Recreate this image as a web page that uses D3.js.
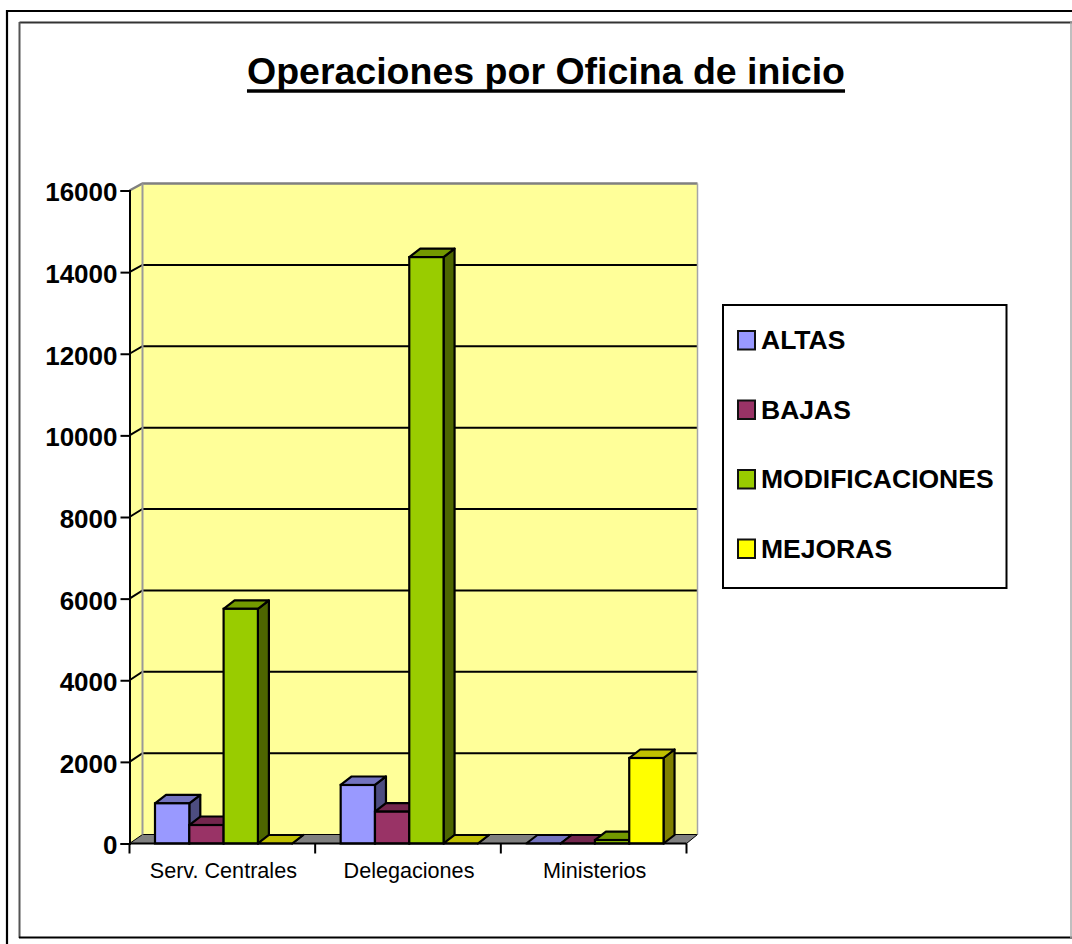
<!DOCTYPE html>
<html>
<head>
<meta charset="utf-8">
<script src="https://cdn.jsdelivr.net/npm/d3@7"></script>
<style>
  html, body { margin: 0; padding: 0; background: #fff; }
  svg { display: block; }
  text { font-family: "Liberation Sans", Arial, sans-serif; fill: #000; }
</style>
</head>
<body>
<div id="chart"></div>
<script>
// chart values
var categories = ["Serv. Centrales", "Delegaciones", "Ministerios"];
var seriesNames = ["ALTAS", "BAJAS", "MODIFICACIONES", "MEJORAS"];
var altas = [985, 1434, 0];
var bajas = [453, 780, 0];
var modificaciones = [5750, 14368, 85];
var mejoras = [0, 0, 2095];
var yTicks = [0, 2000, 4000, 6000, 8000, 10000, 12000, 14000, 16000];
var seriesValues = [altas, bajas, modificaciones, mejoras];
var colors = ["#9999FF", "#993366", "#99CC00", "#FFFF00"];

var svgWidth = 1072;
var svgHeight = 944;

// front plane of the fake 3d box
var plot = {left: 129.5, right: 686.5, top: 190.5, bottom: 843.5};
var backLeft = 142.5, backRight = 697.5, backTop = 183.5, backBottom = 834.5;
var barDx = 11, barDy = 8.5;

var SVG = d3.select("#chart")
  .append("svg")
  .attr("width", svgWidth)
  .attr("height", svgHeight);

// outer frame, only left and top are inside the picture
SVG.append("path")
  .attr("d", "M7,944V11H1072")
  .attr("fill", "none").attr("stroke", "#000").attr("stroke-width", 2.2);

// inner frame, each side has its own grey
var frameSides = [
  {d: "M19.5,22.5H1072", color: "#333", w: 2},
  {d: "M19.5,22V938", color: "#555", w: 2},
  {d: "M19,937.5H1072", color: "#000", w: 2},
  {d: "M1071,22V938", color: "#aaa", w: 1.5}
];
SVG.selectAll(".frame")
  .data(frameSides)
  .enter()
  .append("path")
  .attr("class", "frame")
  .attr("d", d => d.d)
  .attr("fill", "none")
  .attr("stroke", d => d.color)
  .attr("stroke-width", d => d.w);

// title, underline drawn by hand so it sits as low as the original
var title = SVG.append("text")
  .attr("x", 546).attr("y", 84)
  .attr("text-anchor", "middle")
  .attr("font-size", "37.5px")
  .attr("font-weight", "bold")
  .text("Operaciones por Oficina de inicio");
var titleLen = title.node().getComputedTextLength();
SVG.append("line")
  .attr("x1", 546 - titleLen / 2).attr("x2", 546 + titleLen / 2)
  .attr("y1", 91).attr("y2", 91)
  .attr("stroke", "#000").attr("stroke-width", 3.5);

// scales, the back wall is a little shorter than the front plane
var yScale = d3.scaleLinear().domain([0, 16000]).range([plot.bottom, plot.top]);
var yBack = d3.scaleLinear().domain([0, 16000]).range([backBottom, backTop]);
var xScale = d3.scaleBand().domain(categories).range([plot.left, plot.right]);
var barScale = d3.scaleBand().domain(seriesNames).range([25.5, 162.7]);

function poly(points) {
  return d3.line()(points) + "Z";
}

// back wall, left wall, floor
SVG.append("path")
  .attr("d", poly([[backLeft, backTop], [backRight, backTop], [backRight, backBottom], [backLeft, backBottom]]))
  .attr("fill", "#FFFF99").attr("stroke", "none");
SVG.append("path")
  .attr("d", poly([[plot.left, plot.top], [backLeft, backTop], [backLeft, backBottom], [plot.left, plot.bottom]]))
  .attr("fill", "#FFFF99").attr("stroke", "none");
SVG.append("path")
  .attr("d", poly([[plot.left, plot.bottom], [backLeft, backBottom], [backRight, backBottom], [plot.right, plot.bottom]]))
  .attr("fill", "#808080").attr("stroke", "#000").attr("stroke-width", 1);

// gridlines run along the left wall then across the back
SVG.selectAll(".grid")
  .data(yTicks.filter(d => d > 0 && d < 16000))
  .enter()
  .append("path")
  .attr("class", "grid")
  .attr("d", d => d3.line()([[plot.left, yScale(d)], [backLeft, yBack(d)], [backRight, yBack(d)]]))
  .attr("fill", "none").attr("stroke", "#000").attr("stroke-width", 2);

// wall edges
SVG.append("path")
  .attr("d", d3.line()([[plot.left, plot.top], [backLeft, backTop], [backRight, backTop]]))
  .attr("fill", "none").attr("stroke", "#808080").attr("stroke-width", 2.5);
SVG.append("line")
  .attr("x1", backLeft).attr("x2", backLeft)
  .attr("y1", backTop).attr("y2", backBottom)
  .attr("stroke", "#999").attr("stroke-width", 2);
SVG.append("line")
  .attr("x1", backRight).attr("x2", backRight)
  .attr("y1", backTop).attr("y2", backBottom)
  .attr("stroke", "#a6a6a6").attr("stroke-width", 1.5);

// bars: one group per series, each bar has side, top and front faces
seriesNames.forEach(function(name, s) {
  var color = d3.color(colors[s]);
  var rows = categories.map((c, i) => ({cat: c, value: seriesValues[s][i]}));
  var g = SVG.append("g");
  rows.forEach(function(d) {
    var x0 = xScale(d.cat) + barScale(name);
    var x1 = x0 + barScale.bandwidth();
    var yTop = yScale(d.value);
    var yBase = yScale(0);
    var shade = (k) => d3.rgb(color.r * k, color.g * k, color.b * k).formatHex();
    // side
    g.append("path")
      .attr("d", poly([[x1, yTop], [x1 + barDx, yTop - barDy], [x1 + barDx, yBase - barDy], [x1, yBase]]))
      .attr("fill", shade(0.5)).attr("stroke", "#000").attr("stroke-width", 2.2).attr("stroke-linejoin", "round");
    // top
    g.append("path")
      .attr("d", poly([[x0, yTop], [x0 + barDx, yTop - barDy], [x1 + barDx, yTop - barDy], [x1, yTop]]))
      .attr("fill", shade(0.75)).attr("stroke", "#000").attr("stroke-width", 2.2).attr("stroke-linejoin", "round");
    // front
    g.append("rect")
      .attr("x", x0).attr("y", yTop).attr("width", x1 - x0).attr("height", yBase - yTop)
      .attr("fill", colors[s]).attr("stroke", "#000").attr("stroke-width", 2.2);
  });
});

// y axis
var yAxis = d3.axisLeft(yScale).tickValues(yTicks).tickFormat(d3.format("d")).tickSize(9).tickPadding(3);
var yAxisG = SVG.append("g")
  .attr("transform", `translate(${plot.left}, 0)`)
  .call(yAxis);
yAxisG.selectAll("line").attr("stroke", "#000").attr("stroke-width", 2);
yAxisG.select(".domain").attr("stroke", "#000").attr("stroke-width", 2);
yAxisG.selectAll("text")
  .attr("font-size", "26px")
  .attr("font-weight", "bold")
  .attr("dy", "0.4em")
  .attr("font-family", '"Liberation Sans", Arial, sans-serif');

// x axis: band centres carry the labels, ticks sit on the band edges
var xAxis = d3.axisBottom(xScale).tickSize(0).tickPadding(19);
var xAxisG = SVG.append("g")
  .attr("transform", `translate(1, ${plot.bottom})`)
  .call(xAxis);
xAxisG.select(".domain").attr("stroke", "none");
xAxisG.selectAll("text")
  .attr("font-size", "21.6px")
  .attr("font-family", '"Liberation Sans", Arial, sans-serif');
SVG.append("line")
  .attr("x1", plot.left).attr("x2", plot.right)
  .attr("y1", plot.bottom).attr("y2", plot.bottom)
  .attr("stroke", "#000").attr("stroke-width", 2);
SVG.selectAll(".xtick")
  .data(categories.map(c => xScale(c)).concat([plot.right]))
  .enter()
  .append("line")
  .attr("class", "xtick")
  .attr("x1", d => d).attr("x2", d => d)
  .attr("y1", plot.bottom).attr("y2", plot.bottom + 10)
  .attr("stroke", "#000").attr("stroke-width", 2);

// legend
var legend = SVG.append("g");
legend.append("rect")
  .attr("x", 723).attr("y", 305).attr("width", 283.5).attr("height", 283)
  .attr("fill", "#fff").attr("stroke", "#000").attr("stroke-width", 2);
var legendY = d3.scalePoint().domain(seriesNames).range([340, 548.5]);
seriesNames.forEach(function(name, s) {
  legend.append("rect")
    .attr("x", 738).attr("y", legendY(name) - 9).attr("width", 17).attr("height", 18.5)
    .attr("fill", colors[s]).attr("stroke", "#111").attr("stroke-width", 2);
  legend.append("text")
    .attr("x", 761).attr("y", legendY(name) + 9)
    .attr("font-size", "26.5px")
    .attr("font-weight", "bold")
    .text(name);
});
</script>
</body>
</html>
